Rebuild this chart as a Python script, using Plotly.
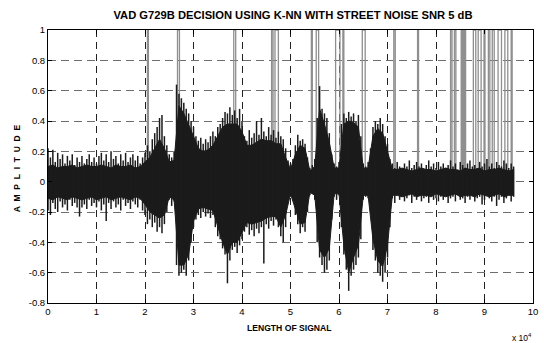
import numpy as np
import plotly.graph_objects as go

# ---------------- data ----------------
sample_step = 500   # spike (peak) envelope read every 500 samples
body_step = 1000    # dense-body envelope read every 1000 samples

upper_env = [
    # 0.00 - 1.95 (x 10^4)
    0.22, 0.16, 0.21, 0.13, 0.19, 0.15, 0.18, 0.12, 0.17, 0.14,
    0.18, 0.11, 0.16, 0.13, 0.17, 0.12, 0.15, 0.18, 0.13, 0.16,
    0.12, 0.17, 0.19, 0.14, 0.18, 0.13, 0.20, 0.15, 0.17, 0.12,
    0.18, 0.14, 0.19, 0.13, 0.16, 0.18, 0.14, 0.17, 0.12, 0.16,
    # 2.00 - 2.60
    0.19, 0.24, 0.20, 0.28, 0.32, 0.36, 0.42, 0.44, 0.30, 0.24, 0.18, 0.16, 0.20,
    # 2.65 - 3.00
    0.64, 0.58, 0.55, 0.52, 0.48, 0.45, 0.40, 0.36,
    # 3.05 - 3.50
    0.30, 0.27, 0.29, 0.25, 0.28, 0.26, 0.30, 0.33, 0.30, 0.36,
    # 3.55 - 4.00
    0.38, 0.42, 0.46, 0.45, 0.49, 0.44, 0.47, 0.42, 0.48, 0.40,
    # 4.05 - 4.35
    0.30, 0.27, 0.34, 0.29, 0.32, 0.40, 0.31,
    # 4.40 - 4.80
    0.42, 0.33, 0.30, 0.36, 0.31, 0.34, 0.29, 0.33, 0.30,
    # 4.85 - 5.10
    0.28, 0.22, 0.14, 0.12, 0.15, 0.24,
    # 5.15 - 5.35
    0.31, 0.27, 0.28, 0.25, 0.16,
    # 5.40 - 5.50
    0.09, 0.11, 0.15,
    # 5.55 - 5.85
    0.42, 0.63, 0.48, 0.45, 0.42, 0.32, 0.18,
    # 5.90 - 6.00
    0.12, 0.10, 0.13,
    # 6.05 - 6.45
    0.38, 0.45, 0.42, 0.46, 0.43, 0.45, 0.40, 0.44, 0.30,
    # 6.50 - 6.65
    0.12, 0.10, 0.13, 0.22,
    # 6.70 - 7.05
    0.36, 0.40, 0.38, 0.42, 0.38, 0.30, 0.25, 0.15,
    # 7.10 - 9.60
    0.12, 0.09, 0.13, 0.10, 0.08, 0.12, 0.10, 0.14, 0.09, 0.11,
    0.13, 0.10, 0.12, 0.08, 0.11, 0.14, 0.10, 0.12, 0.09, 0.13,
    0.10, 0.12, 0.09, 0.11, 0.14, 0.10, 0.12, 0.08, 0.13, 0.11,
    0.09, 0.12, 0.14, 0.10, 0.11, 0.09, 0.13, 0.10, 0.12, 0.15,
    0.10, 0.12, 0.09, 0.13, 0.11, 0.10, 0.14, 0.12, 0.09, 0.12,
    0.10,
]

lower_env = [
    # 0.00 - 1.95
    -0.19, -0.22, -0.14, -0.18, -0.20, -0.13, -0.17, -0.15, -0.19, -0.12,
    -0.16, -0.14, -0.17, -0.23, -0.17, -0.15, -0.18, -0.12, -0.16, -0.14,
    -0.17, -0.13, -0.19, -0.15, -0.26, -0.14, -0.18, -0.13, -0.17, -0.15,
    -0.19, -0.12, -0.16, -0.14, -0.18, -0.13, -0.15, -0.17, -0.12, -0.19,
    # 2.00 - 2.60
    -0.22, -0.28, -0.25, -0.30, -0.27, -0.33, -0.30, -0.34, -0.28, -0.20, -0.12, -0.16, -0.13,
    # 2.65 - 3.00
    -0.55, -0.62, -0.60, -0.58, -0.62, -0.52, -0.40, -0.30,
    # 3.05 - 3.50
    -0.25, -0.22, -0.24, -0.20, -0.23, -0.21, -0.24, -0.22, -0.30, -0.36,
    # 3.55 - 4.00
    -0.38, -0.44, -0.48, -0.67, -0.52, -0.45, -0.43, -0.47, -0.42, -0.38,
    # 4.05 - 4.35
    -0.33, -0.30, -0.35, -0.32, -0.36, -0.31, -0.34,
    # 4.40 - 4.80
    -0.30, -0.54, -0.28, -0.31, -0.26, -0.29, -0.25, -0.30, -0.36,
    # 4.85 - 5.10
    -0.40, -0.30, -0.12, -0.10, -0.12, -0.22,
    # 5.15 - 5.35
    -0.28, -0.34, -0.30, -0.33, -0.20,
    # 5.40 - 5.50
    -0.09, -0.08, -0.12,
    # 5.55 - 5.85
    -0.40, -0.50, -0.55, -0.60, -0.58, -0.52, -0.25,
    # 5.90 - 6.00
    -0.10, -0.12, -0.09,
    # 6.05 - 6.45
    -0.30, -0.48, -0.58, -0.72, -0.62, -0.58, -0.55, -0.50, -0.38,
    # 6.50 - 6.65
    -0.12, -0.10, -0.11, -0.15,
    # 6.70 - 7.05
    -0.45, -0.52, -0.60, -0.62, -0.66, -0.60, -0.50, -0.30,
    # 7.10 - 9.60
    -0.11, -0.14, -0.09, -0.12, -0.10, -0.13, -0.11, -0.09, -0.14, -0.10,
    -0.12, -0.09, -0.13, -0.11, -0.10, -0.14, -0.09, -0.12, -0.11, -0.13,
    -0.10, -0.12, -0.09, -0.14, -0.11, -0.10, -0.13, -0.09, -0.12, -0.11,
    -0.14, -0.10, -0.12, -0.09, -0.13, -0.11, -0.10, -0.15, -0.12, -0.09,
    -0.11, -0.13, -0.10, -0.16, -0.12, -0.10, -0.14, -0.11, -0.09, -0.13,
    -0.10,
]

# solid body of the waveform, every 0.1 x 10^4 samples (0 .. 9.6)
body_upper = [
    # 0.0 - 1.9
    0.10, 0.11, 0.09, 0.10, 0.10, 0.11, 0.09, 0.10, 0.11, 0.10,
    0.10, 0.11, 0.10, 0.09, 0.11, 0.10, 0.10, 0.11, 0.09, 0.10,
    # 2.0 - 7.1
    0.13, 0.16, 0.22, 0.28, 0.22, 0.13, 0.14, 0.50, 0.45, 0.38,
    0.30, 0.22, 0.20, 0.21, 0.24, 0.30, 0.36, 0.38, 0.38, 0.38,
    0.33, 0.24, 0.24, 0.26, 0.28, 0.27, 0.27, 0.25, 0.25, 0.16,
    0.08, 0.18, 0.24, 0.22, 0.07, 0.10, 0.48, 0.38, 0.26, 0.09,
    0.09, 0.38, 0.40, 0.39, 0.36, 0.09, 0.09, 0.30, 0.35, 0.32,
    0.20, 0.08,
    # 7.2 - 9.6
    0.08, 0.09, 0.08, 0.07, 0.08, 0.09, 0.08, 0.08, 0.07, 0.08,
    0.09, 0.08, 0.08, 0.07, 0.09, 0.08, 0.08, 0.09, 0.07, 0.08,
    0.08, 0.09, 0.08, 0.07, 0.08,
]
body_lower = [
    # 0.0 - 1.9
    -0.11, -0.12, -0.10, -0.11, -0.12, -0.10, -0.11, -0.12, -0.11, -0.10,
    -0.12, -0.11, -0.10, -0.12, -0.11, -0.10, -0.11, -0.12, -0.10, -0.11,
    # 2.0 - 7.1
    -0.15, -0.20, -0.22, -0.24, -0.22, -0.10, -0.12, -0.55, -0.55, -0.48,
    -0.26, -0.18, -0.17, -0.18, -0.19, -0.30, -0.40, -0.48, -0.40, -0.40,
    -0.33, -0.27, -0.28, -0.27, -0.26, -0.24, -0.23, -0.23, -0.30, -0.22,
    -0.08, -0.18, -0.28, -0.27, -0.07, -0.09, -0.45, -0.50, -0.44, -0.08,
    -0.08, -0.42, -0.60, -0.50, -0.42, -0.09, -0.09, -0.38, -0.52, -0.56,
    -0.42, -0.09,
    # 7.2 - 9.6
    -0.09, -0.10, -0.09, -0.08, -0.10, -0.09, -0.09, -0.10, -0.08, -0.09,
    -0.10, -0.09, -0.08, -0.10, -0.09, -0.09, -0.10, -0.08, -0.09, -0.10,
    -0.09, -0.08, -0.10, -0.09, -0.09,
]

# VAD decision transitions (sample index where decision toggles 0 <-> 1)
vad_edges = [
    20500, 20700, 26700, 27100, 38300, 38700, 46100, 46400, 46800, 47500,
    54300, 54500, 55300, 55800, 59300, 60200, 60800, 61000, 64800, 65400,
    71300, 71600, 76200, 76400, 83000, 83300, 83800, 84100, 85200, 85400,
    85600, 85800, 86000, 86100, 87700, 88200, 88700, 89300, 89900, 90100,
    90800, 91100, 91600, 92000, 92800, 93500, 94200, 94800, 95500, 95700,
]

x_ticks = list(range(0, 100001, 10000))
x_tick_text = [str(v) for v in range(0, 11)]
y_ticks = [-0.8, -0.6, -0.4, -0.2, 0, 0.2, 0.4, 0.6, 0.8, 1]
y_tick_text = ["-0.8", "-0.6", "-0.4", "-0.2", "0", "0.2", "0.4", "0.6", "0.8", "1"]

assert len(upper_env) == len(lower_env)
assert len(body_upper) == len(body_lower)

# ---------------- build traces ----------------
xs = np.arange(len(upper_env)) * sample_step
xb = np.arange(len(body_upper)) * body_step

# VAD step function: 0 -> 1 -> 0 ...
vx, vy = [0], [0]
level = 0
for e in vad_edges:
    vx += [e, e]
    vy += [level, 1 - level]
    level = 1 - level
vx.append(xs[-1])
vy.append(level)

# spikes: one vertical stroke per reading, lower -> upper
sx, sy = [], []
for x, lo, up in zip(xs, lower_env, upper_env):
    sx += [x, x, None]
    sy += [lo, up, None]

FONT = "Liberation Sans, Arial, Helvetica, sans-serif"
INK = "#1b1b1b"

fig = go.Figure()
fig.add_trace(go.Scatter(
    x=vx, y=vy, mode="lines",
    line=dict(color="#8f8f8f", width=1.3),
    hoverinfo="skip", showlegend=False,
))
fig.add_trace(go.Scatter(
    x=np.concatenate([xb, xb[::-1]]),
    y=np.concatenate([np.array(body_upper), np.array(body_lower)[::-1]]),
    mode="lines", fill="toself", fillcolor=INK,
    line=dict(color=INK, width=1),
    hoverinfo="skip", showlegend=False,
))
fig.add_trace(go.Scatter(
    x=sx, y=sy, mode="lines",
    line=dict(color=INK, width=1.5),
    hoverinfo="skip", showlegend=False,
))

fig.update_layout(
    width=544, height=343,
    margin=dict(l=48, r=6, t=30, b=40),
    paper_bgcolor="white", plot_bgcolor="white",
    title=dict(
        text="<b>VAD G729B DECISION USING K-NN WITH STREET NOISE SNR 5 dB</b>",
        x=(48 + 538) / 2 / 544, xanchor="center",
        y=1 - 15 / 343, yanchor="middle",
        font=dict(family=FONT, size=11.2, color="black"),
    ),
    showlegend=False,
)

fig.update_xaxes(
    range=[0, 100000],
    tickvals=x_ticks, ticktext=x_tick_text,
    ticks="inside", ticklen=4, tickcolor="black",
    showline=True, linecolor="black", linewidth=1, mirror="allticks",
    showgrid=True, gridcolor="#222222", gridwidth=1, griddash="7px,5px",
    zeroline=False,
    tickfont=dict(family=FONT, size=9.5, color="black"),
)
fig.update_yaxes(
    range=[-0.8, 1],
    tickvals=y_ticks, ticktext=y_tick_text,
    ticks="inside", ticklen=4, tickcolor="black",
    showline=True, linecolor="black", linewidth=1, mirror="allticks",
    showgrid=True, gridcolor="#6e6e6e", gridwidth=1, griddash="8px,5px",
    zeroline=False,
    tickfont=dict(family=FONT, size=9.5, color="black"),
)

sp = "\u00a0\u00a0"
fig.add_annotation(
    text="<b>" + sp.join("AMPLITUDE") + "</b>", textangle=-90,
    xref="paper", yref="paper", x=(17 - 48) / 490, y=(303 - 168) / 273,
    xanchor="center", yanchor="middle",
    showarrow=False, font=dict(family=FONT, size=8.5, color="black"),
)
fig.add_annotation(
    text="<b>LENGTH OF SIGNAL</b>",
    xref="paper", yref="paper", x=(292 - 48) / 490, y=(303 - 328) / 273,
    xanchor="center", yanchor="middle",
    showarrow=False, font=dict(family=FONT, size=8.6, color="black"),
)
fig.add_annotation(
    text="x 10<sup>4</sup>",
    xref="paper", yref="paper", x=(527 - 48) / 490, y=(303 - 337) / 273,
    xanchor="center", yanchor="middle",
    showarrow=False, font=dict(family=FONT, size=8.5, color="black"),
)

fig.write_html("out.html")
